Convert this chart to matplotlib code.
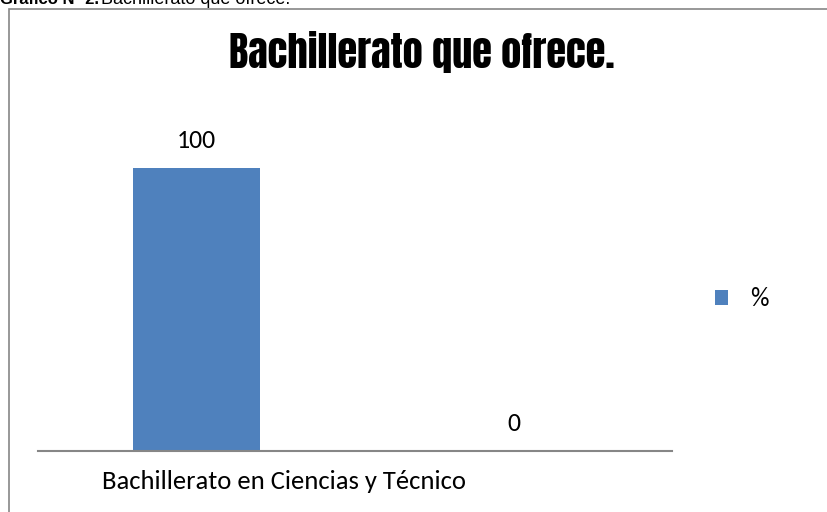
import matplotlib
matplotlib.use("Agg")
import matplotlib.pyplot as plt
from matplotlib.patches import Rectangle
from matplotlib.transforms import ScaledTranslation

categorias = ["Bachillerato en Ciencias y Técnico", ""]
porcentajes = [100, 0]
serie = "%"
titulo = "Bachillerato que ofrece."
pie_bold = "Gráfico Nº 2."
pie_texto = "Bachillerato que ofrece."

BODY = ["Carlito", "Open Sans", "DejaVu Sans"]
TITLE = ["Anton", "Oswald", "DejaVu Sans"]
CAPTION = ["Liberation Sans", "DejaVu Sans"]
AZUL = "#4F81BD"
GRIS = "#868686"

W, H = 827, 512
fig = plt.figure(figsize=(W / 100, H / 100), dpi=100)

def fx(px):
    return px / W

def fy(py):
    return 1 - py / H

# caption above the chart (cut off at the top of the picture, as in the source)
fig.text(fx(0), fy(4), pie_bold, family=CAPTION, weight="bold",
         fontsize=12, ha="left", va="baseline")
fig.text(fx(101), fy(4), pie_texto, family=CAPTION, fontsize=13,
         ha="left", va="baseline")

# chart border
fig.patches.append(Rectangle((fx(8.5), fy(530)), fx(840), fy(8.5) - fy(530),
                             transform=fig.transFigure, fill=False,
                             edgecolor=GRIS, linewidth=1.2))

ax = fig.add_axes([fx(38), fy(451), fx(672) - fx(38), fy(111) - fy(451)])
x = list(range(len(categorias)))
ax.bar(x, porcentajes, width=0.4, color=AZUL, label=serie)
ax.set_xlim(-0.5, 1.5)
ax.set_ylim(0, 120)

for xi, v in zip(x, porcentajes):
    ax.annotate(str(v), (xi, v), xytext=(0, 19.5), textcoords="offset points",
                ha="center", va="center", family=BODY, fontsize=18.5)

for s in ["left", "right", "top"]:
    ax.spines[s].set_visible(False)
ax.spines["bottom"].set_color(GRIS)
ax.spines["bottom"].set_linewidth(1.5)
ax.set_yticks([])
ax.set_xticks(x, categorias, family=BODY, fontsize=19.2)
ax.tick_params(axis="x", length=0, pad=14)
lbl = ax.get_xticklabels()[0]
lbl.set_transform(lbl.get_transform() + ScaledTranslation(0.87, 0, fig.dpi_scale_trans))

ax.legend(loc="center left", bbox_to_anchor=(fx(715), fy(299)),
          bbox_transform=fig.transFigure, frameon=False,
          prop={"family": BODY, "size": 18.5}, handlelength=0.5,
          handleheight=0.5, handletextpad=0.85, borderpad=0, borderaxespad=0)

fig.text(fx(422), fy(68), titulo, family=TITLE, fontsize=29,
         ha="center", va="baseline")

fig.savefig("out.png", dpi=100)
